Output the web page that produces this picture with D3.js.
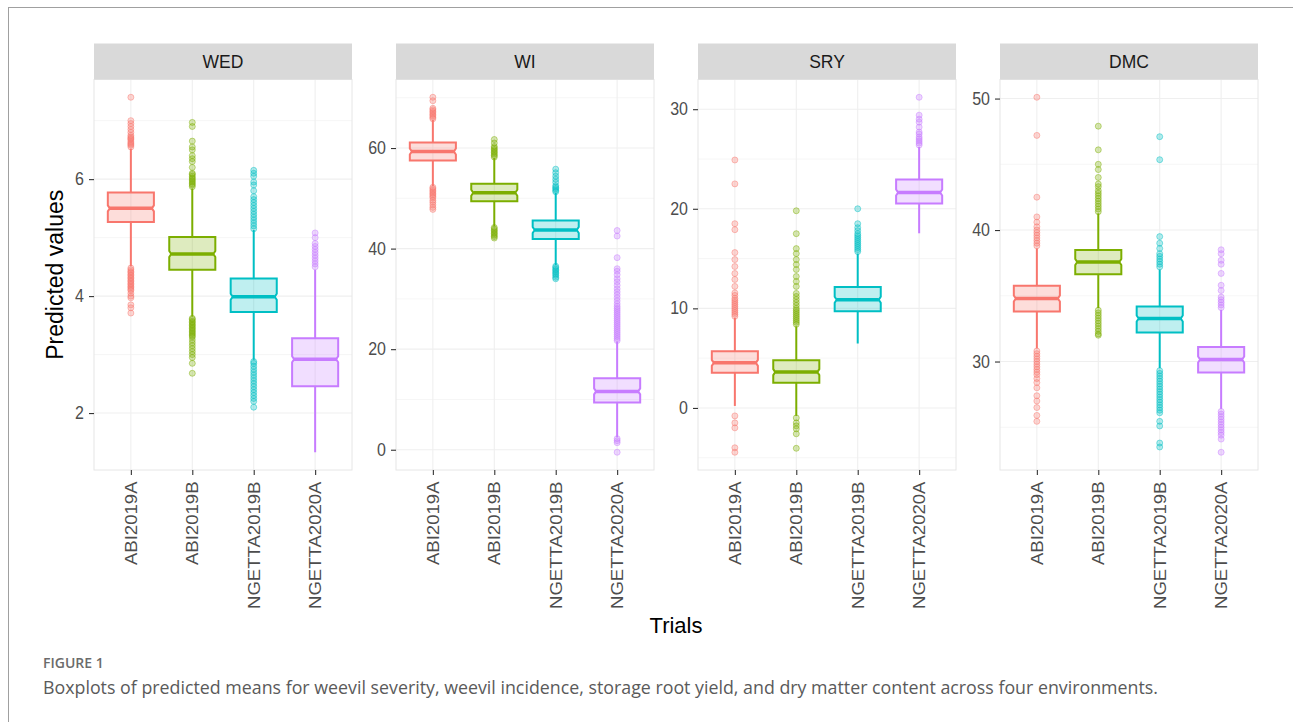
<!DOCTYPE html>
<html>
<head>
<meta charset="utf-8">
<script src="https://cdnjs.cloudflare.com/ajax/libs/d3/7.8.5/d3.min.js"></script>
<style>
  body { margin: 0; background: #fff; }
</style>
</head>
<body>
<div id="chart"></div>
<script>
'use strict'

// Categories
//-------------
var trials = ['ABI2019A', 'ABI2019B', 'NGETTA2019B', 'NGETTA2020A']
var traits = ['WED', 'WI', 'SRY', 'DMC']
var trial_colors = ['#F8766D', '#7CAE00', '#00BFC4', '#C77CFF']

// Box stats per trial: [lower whisker, q1, median, q3, upper whisker]
// Outliers per trial.
//------------------------------------------------------------------------
var wed_stats = [
  [4.51, 5.265, 5.50, 5.77, 6.52],
  [3.65, 4.45, 4.72, 5.01, 5.84],
  [2.91, 3.73, 3.99, 4.30, 5.13],
  [1.33, 2.46, 2.92, 3.28, 4.45]]
var wed_outliers = [
  [6.55, 6.58, 6.6, 6.62, 6.65, 6.68, 6.7, 6.72, 6.75, 6.8, 6.85, 6.9, 6.95, 7.0, 7.4,
   4.48, 4.45, 4.42, 4.4, 4.37, 4.35, 4.32, 4.3, 4.27, 4.25, 4.22, 4.2, 4.17, 4.15, 4.12, 4.1, 4.05, 4.0, 3.97, 3.85, 3.8, 3.71],
  [5.87, 5.9, 5.92, 5.95, 5.97, 6.0, 6.02, 6.05, 6.08, 6.1, 6.2, 6.3, 6.35, 6.4, 6.5, 6.55, 6.65, 6.9, 6.97,
   3.62, 3.6, 3.57, 3.55, 3.52, 3.5, 3.47, 3.45, 3.42, 3.4, 3.37, 3.35, 3.32, 3.3, 3.25, 3.2, 3.15, 3.1, 3.05, 3.0, 2.95, 2.85, 2.68],
  [5.15, 5.2, 5.25, 5.3, 5.35, 5.4, 5.45, 5.5, 5.55, 5.6, 5.65, 5.7, 5.8, 5.9, 5.95, 6.05, 6.1, 6.15,
   2.88, 2.85, 2.8, 2.75, 2.7, 2.65, 2.6, 2.55, 2.5, 2.45, 2.4, 2.35, 2.3, 2.25, 2.2, 2.1],
  [4.5, 4.55, 4.6, 4.65, 4.7, 4.75, 4.8, 4.85, 4.9, 5.0, 5.08]]

var wi_stats = [
  [52.4, 57.5, 59.3, 61.1, 65.6],
  [44.4, 49.4, 51.1, 52.9, 58.0],
  [36.7, 41.9, 43.7, 45.6, 51.1],
  [2.5, 9.4, 11.6, 14.2, 21.5]]
var wi_outliers = [
  [65.8, 66.1, 66.4, 66.7, 67, 67.3, 67.6, 67.9, 69.4, 70.1,
   52.2, 51.9, 51.6, 51.3, 51, 50.7, 50.4, 50.1, 49.6, 49.2, 48.7, 48.2, 47.8],
  [58.2, 58.5, 58.8, 59.1, 59.4, 59.7, 60, 60.3, 61, 61.7,
   44.2, 43.9, 43.6, 43.3, 43, 42.7, 42.4, 42.1],
  [51.3, 51.6, 51.9, 52.2, 52.5, 53.2, 53.8, 54.4, 55.1, 55.8,
   36.5, 36.2, 35.9, 35.6, 35.3, 35, 34.7, 34.3, 34.0],
  [21.7, 22.1, 22.5, 22.9, 23.3, 23.7, 24.1, 24.5, 24.9, 25.3, 25.7, 26.1, 26.5, 26.9, 27.3, 27.7, 28.1, 28.5,
   29, 29.6, 30.2, 30.8, 31.4, 32, 32.7, 33.4, 34, 34.8, 35.5, 36, 38.2, 42.5, 43.6,
   2.2, 1.8, 1.4, -0.5]]

var sry_stats = [
  [0.2, 3.54, 4.53, 5.7, 9.04],
  [-0.8, 2.54, 3.6, 4.8, 8.2],
  [6.47, 9.7, 10.87, 12.14, 15.5],
  [17.54, 20.54, 21.64, 22.94, 26.2]]
var sry_outliers = [
  [9.2, 9.4, 9.6, 9.8, 10, 10.2, 10.4, 10.6, 10.8, 11, 11.3, 11.55, 12.2, 12.9, 13.5, 14.2, 14.9, 15.6,
   17.9, 18.5, 22.5, 24.9,
   -0.8, -1.5, -2.0, -4.0, -4.45],
  [8.4, 8.6, 8.8, 9, 9.2, 9.4, 9.6, 9.8, 10, 10.3, 10.6, 10.9, 11.2, 11.5, 12.2, 12.7, 13.2, 13.9, 14.4, 14.9,
   15.5, 16.0, 17.5, 19.8,
   -1.0, -1.5, -1.8, -2.1, -2.6, -4.05],
  [15.7, 15.9, 16.1, 16.3, 16.5, 16.7, 16.9, 17.1, 17.3, 17.5, 17.8, 18.1, 18.5, 20],
  [26.4, 26.6, 26.8, 27, 27.2, 27.5, 27.7, 28.2, 28.7, 29.0, 29.4, 31.2]]

var dmc_stats = [
  [31.0, 33.8, 34.79, 35.77, 38.6],
  [34.06, 36.64, 37.57, 38.48, 41.27],
  [29.5, 32.2, 33.27, 34.18, 37.0],
  [26.4, 29.17, 30.15, 31.1, 33.93]]
var dmc_outliers = [
  [38.8, 39, 39.2, 39.4, 39.6, 39.8, 40, 40.25, 40.6, 41.0, 42.5, 47.2, 50.1,
   30.8, 30.6, 30.4, 30.2, 30, 29.8, 29.6, 29.4, 29.2, 29, 28.7, 28.4, 28.0, 27.4, 27.0, 26.5, 25.9, 25.45],
  [41.4, 41.6, 41.8, 42, 42.2, 42.4, 42.6, 42.8, 43, 43.3, 43.5, 44.0, 44.6, 45.0, 46.1, 47.9,
   33.9, 33.7, 33.5, 33.3, 33.1, 32.9, 32.7, 32.5, 32.3, 32.1, 32.0],
  [37.2, 37.4, 37.6, 37.8, 38.0, 38.2, 38.6, 39.0, 39.5, 45.35, 47.1,
   29.3, 29.1, 28.9, 28.7, 28.5, 28.3, 28.1, 27.9, 27.7, 27.5, 27.3, 27.1, 26.9, 26.7, 26.5, 26.3, 26.1,
   25.45, 25.1, 23.8, 23.5],
  [34.1, 34.3, 34.5, 34.7, 34.9, 35.4, 35.8, 36.7, 37.4, 37.7, 38.2, 38.5,
   26.2, 26.0, 25.8, 25.6, 25.4, 25.2, 25.0, 24.8, 24.6, 24.4, 24.1, 23.1]]

// Y tick values per panel
//--------------------------
var wed_ticks = [2, 4, 6]
var wi_ticks = [0, 20, 40, 60]
var sry_ticks = [0, 10, 20, 30]
var dmc_ticks = [30, 40, 50]

var panels = [
  {name: traits[0], stats: wed_stats, outliers: wed_outliers, ticks: wed_ticks},
  {name: traits[1], stats: wi_stats, outliers: wi_outliers, ticks: wi_ticks},
  {name: traits[2], stats: sry_stats, outliers: sry_outliers, ticks: sry_ticks},
  {name: traits[3], stats: dmc_stats, outliers: dmc_outliers, ticks: dmc_ticks}]

// Layout
//---------
var W = 1293, H = 722
var plot_left = 94, plot_top = 79.5
var pw = 258, ph = 390.5, gap = 44, strip_h = 36
var notch_in = 2, notch_h = 3
var axis_col = '#4d4d4d'

var svg = d3.select('#chart').append('svg')
  .attr('width', W)
  .attr('height', H)
  .style('font-family', '"Liberation Sans", Arial, Helvetica, sans-serif')

// Page frame lines of the figure
svg.append('line')
  .attr('x1', 8).attr('y1', 7.5).attr('x2', W).attr('y2', 7.5)
  .attr('stroke', '#a0a0a0')
svg.append('line')
  .attr('x1', 8.5).attr('y1', 7).attr('x2', 8.5).attr('y2', H)
  .attr('stroke', '#a0a0a0')

var x = d3.scalePoint()
  .domain(trials)
  .range([0, pw])
  .padding(0.6)
var bw = x.step() * 0.75

panels.forEach(function(p, i) {
  var g = svg.append('g')
    .attr('transform', 'translate(' + (plot_left + i * (pw + gap)) + ',' + plot_top + ')')

  var vals = p.stats.flat().concat(p.outliers.flat())
  var ext = d3.extent(vals)
  var pad = (ext[1] - ext[0]) * 0.05
  var y = d3.scaleLinear()
    .domain([ext[0] - pad, ext[1] + pad])
    .range([ph, 0])
  var dom = y.domain()

  // minor breaks halfway between major ones
  var step = p.ticks[1] - p.ticks[0]
  var minor = [p.ticks[0] - step / 2].concat(p.ticks.map(function(t) { return t + step / 2 }))
    .filter(function(v) { return v > dom[0] && v < dom[1] })

  // Panel background and grid
  g.append('rect')
    .attr('width', pw).attr('height', ph)
    .attr('fill', '#fff')
  g.selectAll('line.minor')
    .data(minor)
    .enter().append('line')
    .attr('class', 'minor')
    .attr('x1', 0).attr('x2', pw)
    .attr('y1', function(d) { return y(d) })
    .attr('y2', function(d) { return y(d) })
    .attr('stroke', '#f4f4f4')
    .attr('stroke-width', 0.8)
  g.selectAll('line.major')
    .data(p.ticks)
    .enter().append('line')
    .attr('class', 'major')
    .attr('x1', 0).attr('x2', pw)
    .attr('y1', function(d) { return y(d) })
    .attr('y2', function(d) { return y(d) })
    .attr('stroke', '#efefef')
    .attr('stroke-width', 1.1)
  g.selectAll('line.vgrid')
    .data(trials)
    .enter().append('line')
    .attr('class', 'vgrid')
    .attr('x1', function(d) { return x(d) })
    .attr('x2', function(d) { return x(d) })
    .attr('y1', 0).attr('y2', ph)
    .attr('stroke', '#efefef')
    .attr('stroke-width', 1.1)

  // Boxes, whiskers and outliers
  p.stats.forEach(function(s, j) {
    var cx = x(trials[j])
    var col = trial_colors[j]
    var x0 = cx - bw / 2, x1 = cx + bw / 2
    var m = y(s[2])

    g.selectAll('circle.o' + j)
      .data(p.outliers[j])
      .enter().append('circle')
      .attr('class', 'o' + j)
      .attr('cx', cx)
      .attr('cy', function(d) { return y(d) })
      .attr('r', 3)
      .attr('fill', col)
      .attr('fill-opacity', 0.3)
      .attr('stroke', col)
      .attr('stroke-opacity', 0.45)
      .attr('stroke-width', 1)

    g.append('line')
      .attr('x1', cx).attr('x2', cx)
      .attr('y1', y(s[4])).attr('y2', y(s[3]))
      .attr('stroke', col).attr('stroke-width', 2)
    g.append('line')
      .attr('x1', cx).attr('x2', cx)
      .attr('y1', y(s[1])).attr('y2', y(s[0]))
      .attr('stroke', col).attr('stroke-width', 2)

    var path = d3.path()
    path.moveTo(x0, y(s[3]))
    path.lineTo(x1, y(s[3]))
    path.lineTo(x1, m - notch_h)
    path.lineTo(x1 - notch_in, m)
    path.lineTo(x1, m + notch_h)
    path.lineTo(x1, y(s[1]))
    path.lineTo(x0, y(s[1]))
    path.lineTo(x0, m + notch_h)
    path.lineTo(x0 + notch_in, m)
    path.lineTo(x0, m - notch_h)
    path.closePath()
    g.append('path')
      .attr('d', path.toString())
      .attr('fill', col)
      .attr('fill-opacity', 0.25)
      .attr('stroke', col)
      .attr('stroke-width', 2)

    g.append('line')
      .attr('x1', x0 + notch_in).attr('x2', x1 - notch_in)
      .attr('y1', m).attr('y2', m)
      .attr('stroke', col).attr('stroke-width', 3.5)
  })

  // Panel border
  g.append('rect')
    .attr('width', pw).attr('height', ph)
    .attr('fill', 'none')
    .attr('stroke', '#e6e6e6')
    .attr('stroke-width', 1)

  // Strip
  g.append('rect')
    .attr('y', -strip_h).attr('width', pw).attr('height', strip_h)
    .attr('fill', '#d9d9d9')
  g.append('text')
    .attr('x', pw / 2).attr('y', -strip_h / 2)
    .attr('dy', '0.36em')
    .attr('text-anchor', 'middle')
    .attr('fill', '#1a1a1a')
    .style('font-size', '17.5px')
    .text(p.name)

  // Y axis
  var ya = g.append('g')
    .call(d3.axisLeft(y).tickValues(p.ticks).tickFormat(d3.format('d')).tickSize(5).tickPadding(5))
  ya.select('.domain').remove()
  ya.selectAll('line').attr('stroke', '#333').attr('stroke-width', 1.1)
  ya.selectAll('text')
    .attr('fill', axis_col)
    .style('font-size', '16px')
    .attr('transform', 'scale(1,1.1)')

  // X axis with rotated labels
  var xa = g.append('g')
    .attr('transform', 'translate(0,' + ph + ')')
    .call(d3.axisBottom(x).tickSize(5))
  xa.select('.domain').remove()
  xa.selectAll('line').attr('stroke', '#333').attr('stroke-width', 1.1)
  xa.selectAll('text')
    .attr('fill', axis_col)
    .style('font-size', '16px')
    .attr('text-anchor', 'end')
    .attr('x', 0).attr('y', 0)
    .attr('dy', '0.35em')
    .attr('transform', 'translate(0,11.5) rotate(-90) scale(1.16,1)')
})

// Axis titles
//--------------
svg.append('text')
  .attr('transform', 'translate(63,' + (plot_top + ph / 2) + ') rotate(-90)')
  .attr('text-anchor', 'middle')
  .attr('fill', '#000')
  .style('font-size', '23px')
  .text('Predicted values')

svg.append('text')
  .attr('x', plot_left + (4 * pw + 3 * gap) / 2)
  .attr('y', 633)
  .attr('text-anchor', 'middle')
  .attr('fill', '#000')
  .style('font-size', '22px')
  .text('Trials')

// Caption
//----------
svg.append('text')
  .attr('x', 43).attr('y', 668)
  .attr('fill', '#6b6b6b')
  .style('font-family', '"Open Sans", Lato, sans-serif')
  .style('font-size', '14px')
  .style('font-weight', 600)
  .text('FIGURE 1')

svg.append('text')
  .attr('x', 43).attr('y', 694)
  .attr('fill', '#5a5a5a')
  .style('font-family', '"Open Sans", Lato, sans-serif')
  .style('font-size', '17.5px')
  .attr('textLength', 1115)
  .attr('lengthAdjust', 'spacingAndGlyphs')
  .text('Boxplots of predicted means for weevil severity, weevil incidence, storage root yield, and dry matter content across four environments.')
</script>
</body>
</html>
